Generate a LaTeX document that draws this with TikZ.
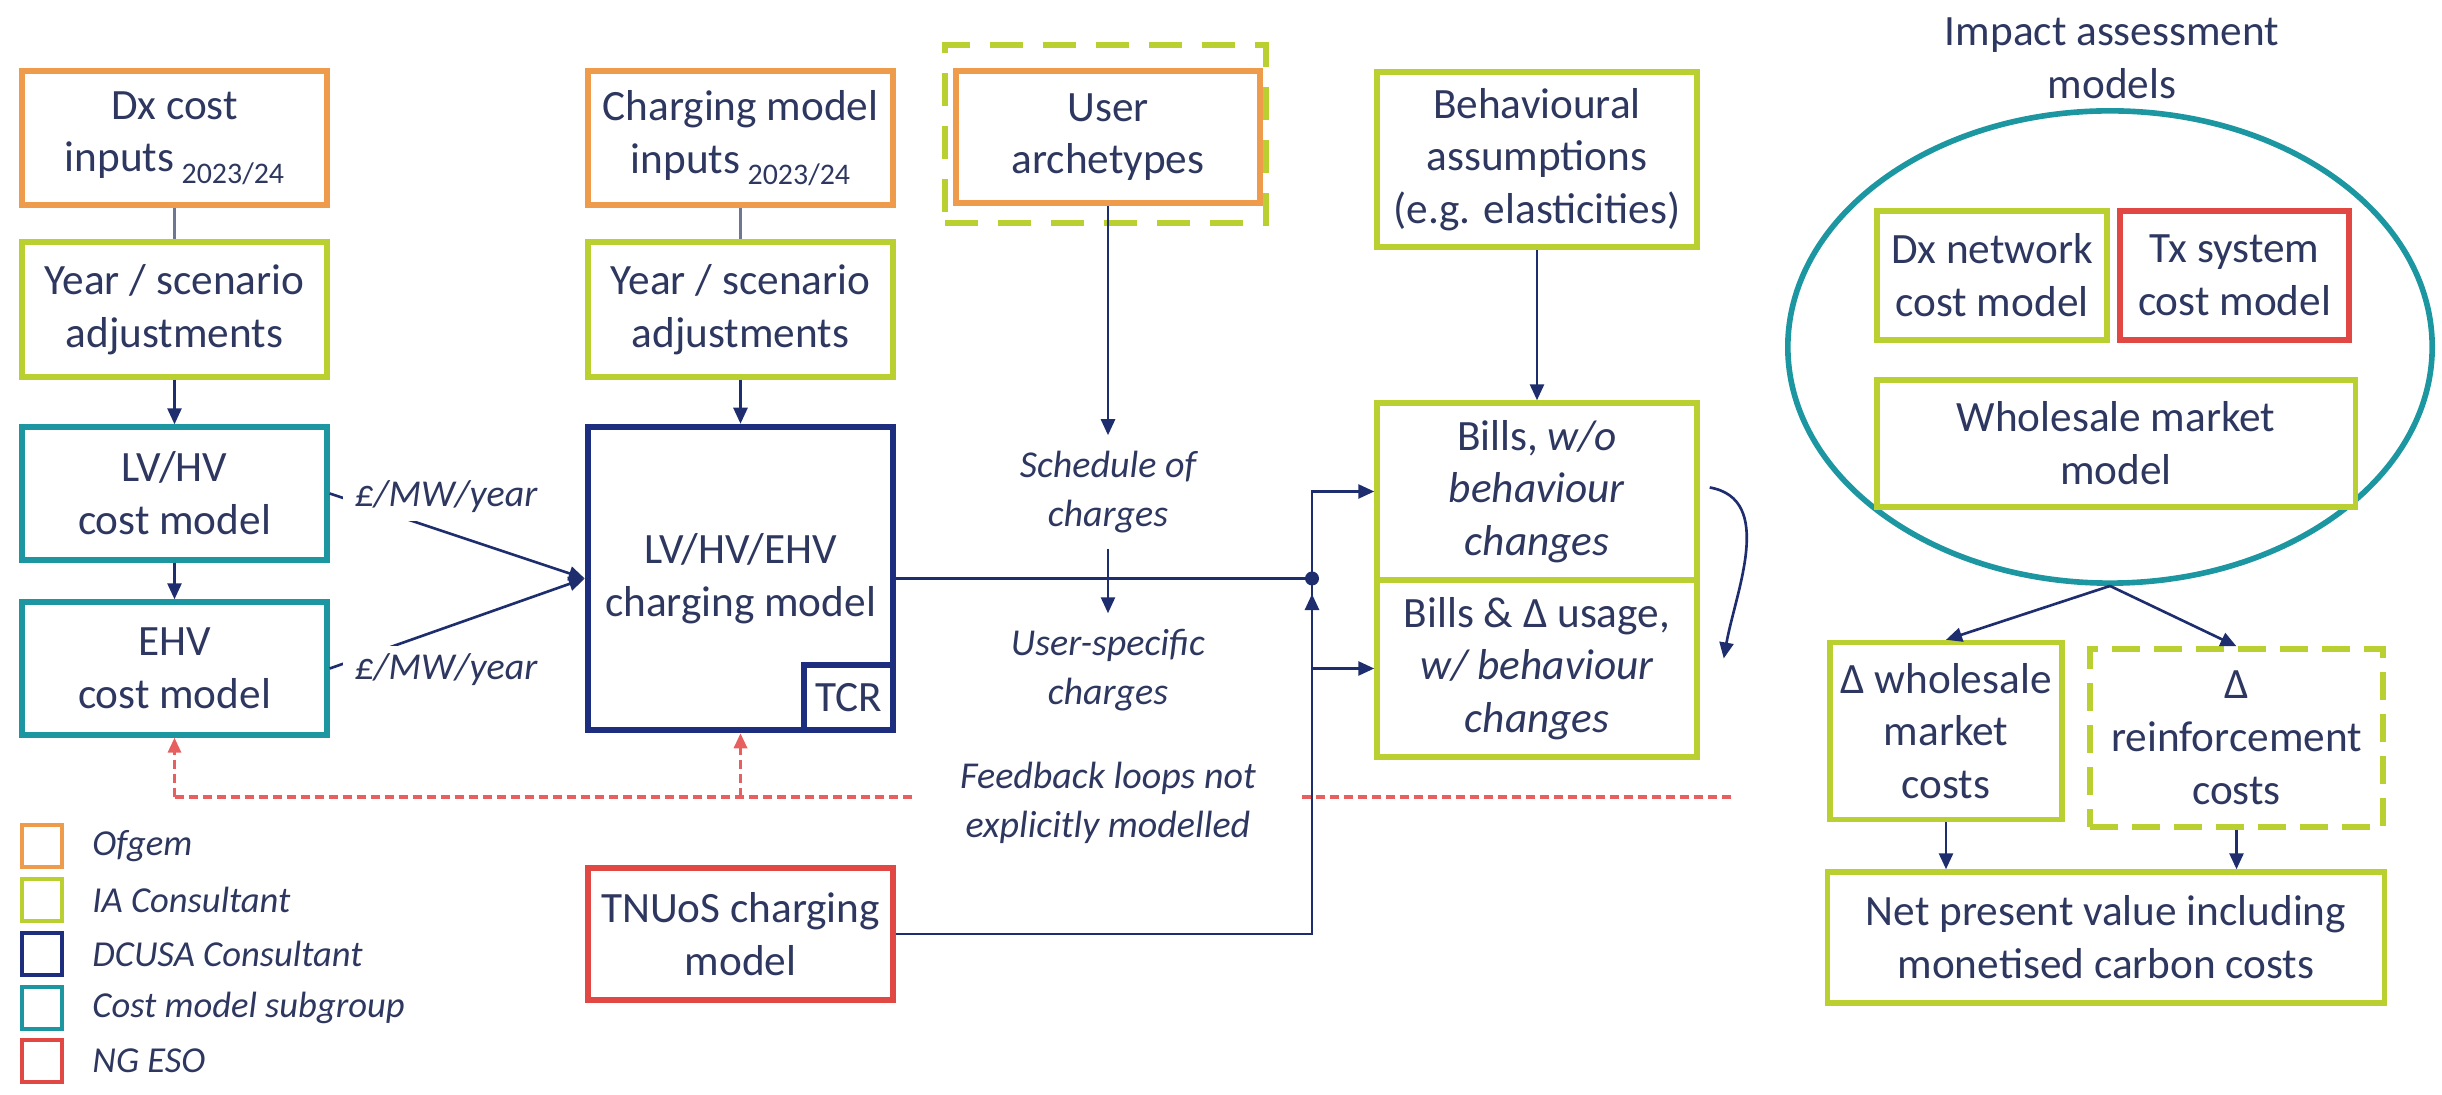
\documentclass[tikz,border=0pt]{standalone}
\usepackage{fontspec}
\setmainfont{Carlito}
\usetikzlibrary{arrows.meta,calc,shapes.geometric}

\definecolor{ofg}{RGB}{238,156,76}
\definecolor{iac}{RGB}{186,208,48}
\definecolor{dcu}{RGB}{28,46,125}
\definecolor{cms}{RGB}{28,150,160}
\definecolor{nge}{RGB}{225,72,68}
\definecolor{ink}{RGB}{45,55,95}
\definecolor{wire}{RGB}{30,45,110}
\definecolor{plain}{RGB}{110,118,145}
\definecolor{fbred}{RGB}{232,95,95}

\newcommand\boxfont{\fontsize{12.3}{15}\selectfont}
\newcommand\notefont{\fontsize{10.8}{14}\selectfont\itshape}
\newcommand\keyfont{\fontsize{10.4}{13}\selectfont\itshape}
\newcommand\subyr{\raisebox{-0.55ex}{\fontsize{8.5}{8.5}\selectfont 2023/24}}

\tikzset{
  box/.style={draw, line width=1.5pt, fill=white, align=center, text=ink,
    inner sep=0pt, font=\boxfont},
  note/.style={align=center, text=ink, font=\notefont},
  conn/.style={draw=wire, line width=0.75pt},
  arr/.style={conn, -{Triangle[length=0.16cm,width=0.14cm]}},
  link/.style={draw=plain, line width=0.75pt},
  fb/.style={draw=fbred, line width=0.9pt, dash pattern=on 0.09cm off 0.05cm},
  fbarr/.style={fb, -{Triangle[length=0.15cm,width=0.13cm]}},
  legsq/.style={draw, line width=1.3pt, minimum width=0.4cm, minimum height=0.42cm, inner sep=0pt},
  legtxt/.style={anchor=west, text=ink, font=\keyfont},
}

\begin{document}
\begin{tikzpicture}[x=0.01cm, y=-0.01cm]
\useasboundingbox (0,0) rectangle (2442,1095);

% ---- Dx cost chain ----
\node[box, draw=ofg, minimum width=3.05cm, minimum height=1.34cm] (dx) at (174.5,138) {Dx cost\\inputs\,\subyr};
\node[box, draw=iac, minimum width=3.05cm, minimum height=1.35cm] (yr1) at (174.5,309.5) {Year / scenario\\adjustments};
\node[box, draw=cms, minimum width=3.05cm, minimum height=1.33cm] (lvhv) at (174.5,493.5) {LV/HV\\cost model};
\node[box, draw=cms, minimum width=3.05cm, minimum height=1.33cm] (ehv) at (174.5,668.5) {EHV\\cost model};

% ---- charging chain ----
\node[box, draw=ofg, minimum width=3.05cm, minimum height=1.34cm] (cmi) at (740.5,138) {Charging model\\inputs\,\subyr};
\node[box, draw=iac, minimum width=3.05cm, minimum height=1.35cm] (yr2) at (740.5,309.5) {Year / scenario\\adjustments};
\node[box, draw=dcu, line width=1.8pt, minimum width=3.05cm, minimum height=3.03cm] (chg) at (740.5,578.5) {LV/HV/EHV\\charging model};
\node[box, draw=dcu, line width=1.8pt, minimum width=0.89cm, minimum height=0.65cm, anchor=south east] (tcr) at (chg.south east) {TCR};
\node[box, draw=nge, minimum width=3.05cm, minimum height=1.32cm] (tnuos) at (740.5,934) {TNUoS charging\\model};

% ---- user archetypes ----
\node[draw=iac, line width=1.5pt, dash pattern=on 0.33cm off 0.2cm, minimum width=3.21cm, minimum height=1.78cm, inner sep=0pt] (usergrp) at (1105.5,134) {};
\node[box, draw=ofg, minimum width=3.04cm, minimum height=1.32cm] (user) at (1108,137) {User\\archetypes};
\node[note, inner sep=0.15cm] (sched) at (1108,492) {Schedule of\\charges};
\node[note, inner sep=0.15cm] (uspec) at (1108,670) {User-specific\\charges};

% ---- behaviour and bills ----
\node[box, draw=iac, minimum width=3.2cm, minimum height=1.75cm] (beh) at (1537,159.5) {Behavioural\\assumptions\\(e.g. elasticities)};
\node[box, draw=iac, minimum width=3.2cm, minimum height=1.77cm] (bills1) at (1537,491.5) {Bills, \textit{w/o}\\\textit{behaviour}\\\textit{changes}};
\node[box, draw=iac, minimum width=3.2cm, minimum height=1.77cm] (bills2) at (1537,668.5) {Bills \& Δ usage,\\\textit{w/ behaviour}\\\textit{changes}};

% ---- impact assessment models ----
\node[text=ink, font=\boxfont, align=center] (iatitle) at (2112,58) {Impact assessment\\models};
\node[draw=cms, ellipse, line width=1.6pt, minimum width=6.44cm, minimum height=4.72cm, inner sep=0pt] (iam) at (2110,347) {};
\node[box, draw=iac, minimum width=2.3cm, minimum height=1.29cm] (dxnet) at (1992,275.5) {Dx network\\cost model};
\node[box, draw=nge, minimum width=2.29cm, minimum height=1.29cm] (txsys) at (2234.5,275.5) {Tx system\\cost model};
\node[box, draw=iac, minimum width=4.78cm, minimum height=1.27cm] (wsm) at (2116,443.5) {Wholesale market\\model};

\node[box, draw=iac, minimum width=2.32cm, minimum height=1.77cm] (dws) at (1946,731) {Δ wholesale\\market\\costs};
\node[box, draw=iac, dash pattern=on 0.28cm off 0.14cm, minimum width=2.93cm, minimum height=1.78cm] (drf) at (2236.5,738) {Δ\\reinforcement\\costs};
\node[box, draw=iac, minimum width=5.56cm, minimum height=1.31cm] (npv) at (2106,937.5) {Net present value including\\monetised carbon costs};

% ---- connectors, left chains ----
\draw[link] (dx) -- (yr1);
\draw[arr] (yr1) -- (lvhv);
\draw[arr] (lvhv) -- (ehv);
\draw[link] (cmi) -- (yr2);
\draw[arr] (yr2) -- (chg);

\draw[arr] (lvhv.east) -- (chg.west);
\draw[arr] (ehv.east) -- (chg.west);
\node[note, fill=white, inner xsep=0.12cm, inner ysep=0.08cm] (lab1) at (446,497) {£/MW/year};
\node[note, fill=white, inner xsep=0.12cm, inner ysep=0.08cm] (lab2) at (446,670) {£/MW/year};

% ---- schedule of charges to bills ----
\coordinate (jn) at (1312,578.5);
\coordinate (jnb) at (1312,594);
\draw[arr] (user) -- (sched);
\draw[arr] (sched) -- (uspec);
\draw[conn] (chg.east) -- (jn);
\fill[wire] (jn) circle (7);
\draw[arr] (tnuos.east) -| (jnb);
\draw[arr] (jn) |- (bills1.west);
\draw[arr] (jn) |- (bills2.west);
\draw[arr] (beh) -- (bills1);
\draw[arr] ($(bills1.east)+(10,-4)$) to[out=-10,in=80] ($(bills2.east)+(24,-10)$);

% ---- impact assessment flow ----
\draw[arr] (iam.south) -- (dws.north);
\draw[arr] (iam.south) -- (drf.north);
\draw[arr] (dws.south) -- (dws.south |- npv.north);
\draw[arr] (drf.south) -- (drf.south |- npv.north);

% ---- feedback loops ----
\node[note, inner xsep=0.45cm] (fbnote) at (1108,803) {Feedback loops not\\explicitly modelled};
\coordinate (fbL) at (174.5,797);
\coordinate (fbR) at (1731,797);
\coordinate (fbM) at (740.5,797);
\draw[fb] (fbL) -- (fbnote.west |- fbL);
\draw[fb] (fbnote.east |- fbR) -- (fbR);
\draw[fbarr] (fbL) -- (ehv.south);
\draw[fbarr] (fbM) -- (chg.south);

% ---- legend ----
\node[legsq, draw=ofg] (k1) at (42,846) {};
\node[legsq, draw=iac] (k2) at (42,900) {};
\node[legsq, draw=dcu] (k3) at (42,954) {};
\node[legsq, draw=cms] (k4) at (42,1008) {};
\node[legsq, draw=nge] (k5) at (42,1061) {};
\node[legtxt] (t1) at (80,846) {Ofgem};
\node[legtxt] (t2) at (80,900) {IA Consultant};
\node[legtxt] (t3) at (80,954) {DCUSA Consultant};
\node[legtxt] (t4) at (80,1008) {Cost model subgroup};
\node[legtxt] (t5) at (80,1061) {NG ESO};
\end{tikzpicture}
\end{document}
